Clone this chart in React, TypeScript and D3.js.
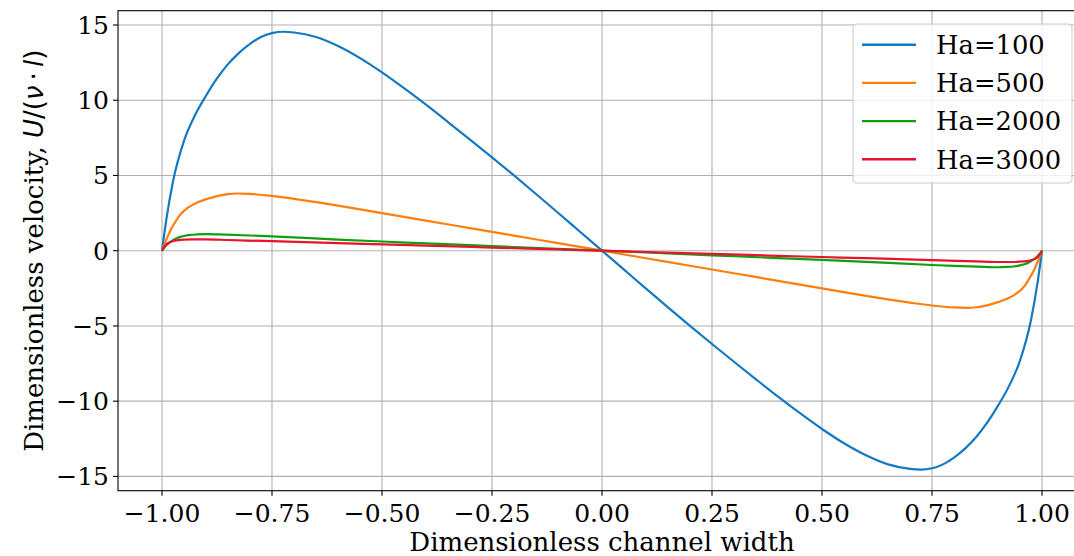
import React from "react";
import * as d3 from "d3";

const xTicks = [-1, -0.75, -0.5, -0.25, 0, 0.25, 0.5, 0.75, 1];
const yTicks = [-15, -10, -5, 0, 5, 10, 15];

const xHa100 = [-1, -0.99, -0.975, -0.95, -0.925, -0.9, -0.875, -0.85, -0.825, -0.8, -0.775, -0.75, -0.724, -0.7, -0.65, -0.6, -0.55, -0.5, -0.45, -0.4, -0.35, -0.3, -0.25, -0.2, -0.15, -0.1, -0.05, 0,
  0.05, 0.1, 0.15, 0.2, 0.25, 0.3, 0.35, 0.4, 0.45, 0.5, 0.55, 0.6, 0.65, 0.7, 0.724, 0.75, 0.775, 0.8, 0.825, 0.85, 0.875, 0.9, 0.925, 0.95, 0.975, 0.99, 1];
const uHa100 = [0, 2.1, 4.6, 7.3, 9.0, 10.3, 11.45, 12.4, 13.15, 13.75, 14.2, 14.46, 14.55, 14.5, 14.2, 13.6, 12.8, 11.85, 10.8, 9.7, 8.55, 7.38, 6.2, 5.0, 3.77, 2.52, 1.26, 0,
  -1.26, -2.52, -3.77, -5.0, -6.2, -7.38, -8.55, -9.7, -10.8, -11.85, -12.8, -13.6, -14.2, -14.5, -14.55, -14.46, -14.2, -13.75, -13.15, -12.4, -11.45, -10.3, -9.0, -7.3, -4.6, -2.1, 0];

const xHa500 = [-1, -0.99, -0.98, -0.97, -0.96, -0.94, -0.92, -0.9, -0.875, -0.85, -0.83, -0.8, -0.75, -0.7, -0.6, -0.5, -0.4, -0.3, -0.2, -0.1, 0,
  0.1, 0.2, 0.3, 0.4, 0.5, 0.6, 0.7, 0.75, 0.8, 0.83, 0.85, 0.875, 0.9, 0.92, 0.94, 0.96, 0.97, 0.98, 0.99, 1];
const uHa500 = [0, 0.75, 1.4, 1.9, 2.35, 2.88, 3.2, 3.42, 3.63, 3.76, 3.8, 3.77, 3.64, 3.45, 3.0, 2.5, 2.0, 1.5, 1.0, 0.5, 0,
  -0.5, -1.0, -1.5, -2.0, -2.5, -3.0, -3.45, -3.64, -3.77, -3.8, -3.76, -3.63, -3.42, -3.2, -2.88, -2.35, -1.9, -1.4, -0.75, 0];

const xHa2000 = [-1, -0.995, -0.99, -0.98, -0.97, -0.96, -0.95, -0.935, -0.92, -0.9, -0.87, -0.8, -0.75, -0.6, -0.5, -0.4, -0.25, -0.1, 0,
  0.1, 0.25, 0.4, 0.5, 0.6, 0.75, 0.8, 0.87, 0.9, 0.92, 0.935, 0.95, 0.96, 0.97, 0.98, 0.99, 0.995, 1];
const uHa2000 = [0, 0.2, 0.36, 0.6, 0.78, 0.9, 0.98, 1.05, 1.08, 1.1, 1.08, 1.01, 0.95, 0.74, 0.61, 0.49, 0.305, 0.12, 0,
  -0.12, -0.305, -0.49, -0.61, -0.74, -0.95, -1.01, -1.08, -1.1, -1.08, -1.05, -0.98, -0.9, -0.78, -0.6, -0.36, -0.2, 0];

const xHa3000 = [-1, -0.995, -0.99, -0.985, -0.975, -0.965, -0.95, -0.93, -0.9, -0.85, -0.75, -0.6, -0.5, -0.4, -0.25, -0.1, 0,
  0.1, 0.25, 0.4, 0.5, 0.6, 0.75, 0.85, 0.9, 0.93, 0.95, 0.965, 0.975, 0.985, 0.99, 0.995, 1];
const uHa3000 = [0, 0.25, 0.42, 0.53, 0.64, 0.69, 0.73, 0.75, 0.75, 0.71, 0.63, 0.5, 0.42, 0.34, 0.21, 0.085, 0,
  -0.085, -0.21, -0.34, -0.42, -0.5, -0.63, -0.71, -0.75, -0.75, -0.73, -0.69, -0.64, -0.53, -0.42, -0.25, 0];

const seriesNames = ["Ha=100", "Ha=500", "Ha=2000", "Ha=3000"];
const seriesX = [xHa100, xHa500, xHa2000, xHa3000];
const seriesU = [uHa100, uHa500, uHa2000, uHa3000];
const colors = ["#1479c0", "#ff7f0e", "#0fa00f", "#e8132d"];

const W = 1074, H = 556;
const left = 118, right = 1086, top = 10.7, bottom = 490.7;
const fmt = (v: number) => (v < 0 ? "\u2212" : "") + Math.abs(v).toFixed(2);
const fmtY = (v: number) => (v < 0 ? "\u2212" : "") + Math.abs(v).toString();

export default function App() {
  const x = d3.scaleLinear().domain([-1.1, 1.1]).range([left, right]);
  const y = d3.scaleLinear().domain([-15.95, 15.95]).range([bottom, top]);
  const line = d3
    .line<[number, number]>()
    .x((d) => x(d[0]))
    .y((d) => y(d[1]))
    .curve(d3.curveMonotoneX);
  const font = "'DejaVu Serif', serif";
  const grid = "#b0b0b0";
  return (
    <svg width={W} height={H} style={{ position: "absolute", left: 0, top: 0, background: "#fff" }} fontFamily={font}>
      <defs>
        <clipPath id="plot">
          <rect x={left} y={top} width={right - left} height={bottom - top} />
        </clipPath>
      </defs>
      <rect x={0} y={0} width={W} height={H} fill="#fff" />
      {xTicks.map((t) => (
        <line key={"gx" + t} x1={x(t)} x2={x(t)} y1={top} y2={bottom} stroke={grid} strokeWidth={1.1} />
      ))}
      {yTicks.map((t) => (
        <line key={"gy" + t} x1={left} x2={right} y1={y(t)} y2={y(t)} stroke={grid} strokeWidth={1.1} />
      ))}
      <g clipPath="url(#plot)">
        {seriesNames.map((n, i) => (
          <path
            key={n}
            d={line(seriesX[i].map((v, j) => [v, seriesU[i][j]] as [number, number])) || ""}
            fill="none"
            stroke={colors[i]}
            strokeWidth={2.2}
            strokeLinejoin="round"
          />
        ))}
      </g>
      <rect x={left} y={top} width={right - left} height={bottom - top} fill="none" stroke="#000" strokeWidth={1.1} />
      {xTicks.map((t) => (
        <g key={"tx" + t}>
          <line x1={x(t)} x2={x(t)} y1={bottom} y2={bottom + 5} stroke="#000" strokeWidth={1.1} />
          <text x={x(t)} y={522} textAnchor="middle" fontSize={25} fill="#000">
            {fmt(t)}
          </text>
        </g>
      ))}
      {yTicks.map((t) => (
        <g key={"ty" + t}>
          <line x1={left - 5} x2={left} y1={y(t)} y2={y(t)} stroke="#000" strokeWidth={1.1} />
          <text x={109} y={y(t) + 9} textAnchor="end" fontSize={25} fill="#000">
            {fmtY(t)}
          </text>
        </g>
      ))}
      <text x={(left + right) / 2} y={551} textAnchor="middle" fontSize={26} fill="#000">
        Dimensionless channel width
      </text>
      <text
        transform={`translate(42.5, ${(top + bottom) / 2}) rotate(-90)`}
        textAnchor="middle"
        fontSize={26}
        fill="#000"
      >
        Dimensionless velocity,{" "}
        <tspan fontFamily="'DejaVu Sans', sans-serif" fontStyle="italic">U</tspan>
        <tspan fontFamily="'DejaVu Sans', sans-serif">/(</tspan>
        <tspan fontFamily="'DejaVu Sans', sans-serif" fontStyle="italic">ν</tspan>
        <tspan fontFamily="'DejaVu Sans', sans-serif">{"\u2009·\u2009"}</tspan>
        <tspan fontFamily="'DejaVu Sans', sans-serif" fontStyle="italic">l</tspan>
        <tspan fontFamily="'DejaVu Sans', sans-serif">)</tspan>
      </text>
      <g>
        <rect x={853} y={24} width={219} height={159} rx={4} fill="#fff" fillOpacity={0.8} stroke="#cccccc" strokeWidth={1.1} />
        {seriesNames.map((n, i) => (
          <g key={"lg" + n}>
            <line x1={862} x2={916} y1={44.7 + i * 38.2} y2={44.7 + i * 38.2} stroke={colors[i]} strokeWidth={2.4} />
            <text x={936} y={54 + i * 38.2} fontSize={25.8} fill="#000">
              {n}
            </text>
          </g>
        ))}
      </g>
    </svg>
  );
}
